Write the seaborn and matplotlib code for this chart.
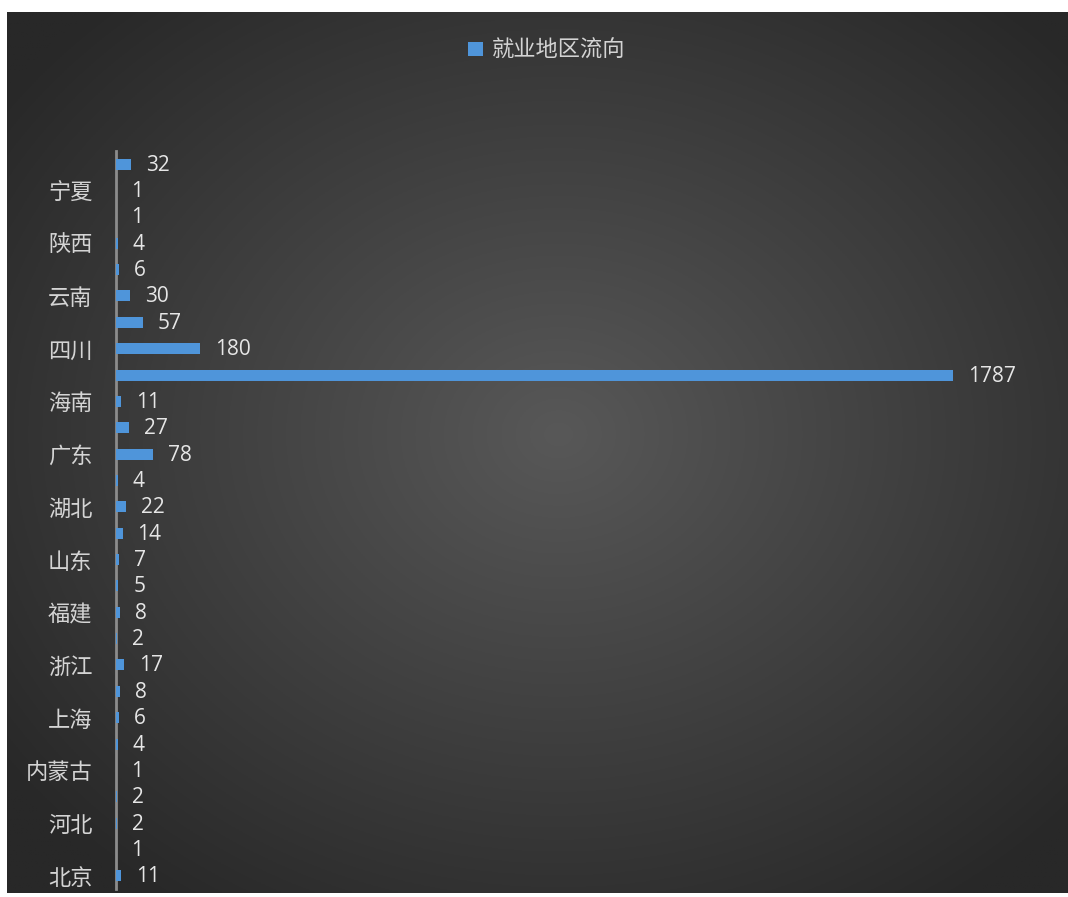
import matplotlib.pyplot as plt
import numpy as np
import pandas as pd
import seaborn as sns

# Kategorien von oben nach unten (nur jede zweite wird beschriftet)
regions = ['新疆', '宁夏', '甘肃', '陕西', '西藏', '云南', '贵州', '四川', '重庆', '海南',
           '广西', '广东', '湖南', '湖北', '河南', '山东', '江西', '福建', '安徽', '浙江',
           '江苏', '上海', '辽宁', '内蒙古', '山西', '河北', '天津', '北京']
counts = [32, 1, 1, 4, 6, 30, 57, 180, 1787, 11,
          27, 78, 4, 22, 14, 7, 5, 8, 2, 17,
          8, 6, 4, 1, 2, 2, 1, 11]
shown_labels = ['', '宁夏', '', '陕西', '', '云南', '', '四川', '', '海南',
                '', '广东', '', '湖北', '', '山东', '', '福建', '', '浙江',
                '', '上海', '', '内蒙古', '', '河北', '', '北京']

data = pd.DataFrame({'region': regions, 'count': counts, 'series': '就业地区流向'})

sns.set_style('white')
plt.rcParams['font.family'] = ['Noto Sans CJK SC', 'DejaVu Sans']

fig = plt.figure(figsize=(10.68, 8.97), dpi=100)
fig.patch.set_facecolor('white')

# Hintergrund mit radialem Verlauf
bg = fig.add_axes([7 / 1068, 4 / 897, 1061 / 1068, 881 / 897])
yy, xx = np.mgrid[0:1:400j, 0:1:480j]
r = np.sqrt(((xx - 0.52) / 0.65) ** 2 + ((yy - 0.48) / 0.65) ** 2)
r = np.clip(r, 0, 1)
shade = 0x58 / 255 * (1 - r) + 0x28 / 255 * r
bg.imshow(np.dstack([shade, shade, shade]), aspect='auto', extent=[0, 1, 0, 1])
bg.set_axis_off()

ax = fig.add_axes([116 / 1068, 1 - 889 / 897, (1053 - 116) / 1068, (889 - 151) / 897])
ax.patch.set_alpha(0)

sns.barplot(data=data, x='count', y='region', hue='series', palette=['#4f95da'],
            orient='h', width=0.42, saturation=1, linewidth=0, ax=ax, legend=True)

for p, v in zip(ax.patches, counts):
    p.set_zorder(3)
    ax.annotate(str(v), (p.get_width(), p.get_y() + p.get_height() / 2),
                xytext=(15, -1), textcoords='offset pixels',
                va='center', ha='left', color='#e6e6e6', fontsize=15,
                family=['Open Sans', 'DejaVu Sans'])

ax.set_xlim(0, 2000)
ax.set_xlabel('')
ax.set_ylabel('')
ax.set_xticks([])
ax.set_yticks(range(len(regions)))
ax.set_yticklabels(shown_labels, fontsize=16, color='#d4d4d4')
ax.tick_params(axis='y', length=0, pad=17)
for s in ['top', 'right', 'bottom']:
    ax.spines[s].set_visible(False)
ax.spines['left'].set_color('#8c8c8c')
ax.spines['left'].set_linewidth(2)
ax.spines['left'].set_zorder(1)

handles, labels = ax.get_legend_handles_labels()
ax.legend_.remove()
leg = fig.legend(handles, labels, loc='center', bbox_to_anchor=(0.512, 0.944),
                 frameon=False, fontsize=16, handlelength=0.65, handleheight=0.65,
                 handletextpad=0.4)
for t in leg.get_texts():
    t.set_color('#d4d4d4')

plt.savefig('out.png', dpi=100)
